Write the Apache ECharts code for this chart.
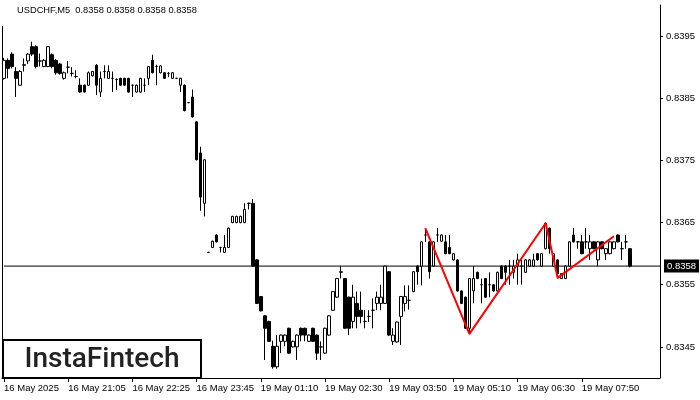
<!DOCTYPE html>
<html><head><meta charset="utf-8">
<script src="https://cdn.jsdelivr.net/npm/echarts@6/dist/echarts.min.js"></script>
<style>html,body{margin:0;padding:0;background:#fff}#c{width:700px;height:400px}</style>
</head><body><div id="c"></div>
<script>
const opens=[0.83882,0.83911,0.83921,0.83893,0.83871,0.83903,0.83910,0.83933,0.83933,0.83910,
0.83901,0.83901,0.83920,0.83911,0.83905,0.83882,0.83900,0.83890,0.83885,0.83871,
0.83871,0.83871,0.83886,0.83903,0.83860,0.83893,0.83882,0.83882,0.83880,0.83882,
0.83882,0.83882,0.83871,0.83860,0.83860,0.83871,0.83882,0.83911,0.83901,0.83891,
0.83891,0.83890,0.83882,0.83882,0.83871,0.83871,0.83843,0.83852,0.83812,0.83762,
0.83681,0.83602,0.83610,0.83630,0.83610,0.83602,0.83610,0.83650,0.83650,0.83650,
0.83650,0.83681,0.83681,0.83590,0.83531,0.83500,0.83491,0.83451,0.83418,0.83459,
0.83459,0.83480,0.83450,0.83450,0.83480,0.83480,0.83459,0.83480,0.83469,0.83450,
0.83440,0.83469,0.83509,0.83530,0.83570,0.83560,0.83530,0.83491,0.83520,0.83509,
0.83491,0.83499,0.83509,0.83520,0.83520,0.83520,0.83571,0.83459,0.83458,0.83499,
0.83520,0.83525,0.83539,0.83580,0.83580,0.83630,0.83619,0.83580,0.83630,0.83620,
0.83619,0.83610,0.83590,0.83590,0.83540,0.83530,0.83480,0.83540,0.83570,0.83550,
0.83560,0.83550,0.83550,0.83540,0.83580,0.83580,0.83580,0.83570,0.83580,0.83580,
0.83570,0.83580,0.83580,0.83600,0.83580,0.83608,0.83641,0.83580,0.83590,0.83560,
0.83560,0.83580,0.83630,0.83619,0.83619,0.83619,0.83608,0.83619,0.83590,0.83619,
0.83600,0.83600,0.83608,0.83630,0.83608,0.83619,0.83608];
const closes=[0.83911,0.83898,0.83901,0.83882,0.83893,0.83904,0.83921,0.83921,0.83901,0.83910,
0.83911,0.83933,0.83901,0.83891,0.83890,0.83891,0.83900,0.83890,0.83885,0.83860,
0.83860,0.83891,0.83893,0.83871,0.83882,0.83893,0.83893,0.83882,0.83880,0.83871,
0.83871,0.83860,0.83871,0.83871,0.83882,0.83871,0.83901,0.83891,0.83901,0.83902,
0.83882,0.83890,0.83891,0.83882,0.83882,0.83830,0.83843,0.83820,0.83751,0.83691,
0.83751,0.83602,0.83620,0.83619,0.83610,0.83610,0.83641,0.83660,0.83660,0.83660,
0.83671,0.83681,0.83580,0.83520,0.83508,0.83480,0.83459,0.83418,0.83451,0.83469,
0.83469,0.83440,0.83459,0.83469,0.83469,0.83469,0.83469,0.83459,0.83440,0.83450,
0.83480,0.83500,0.83539,0.83560,0.83571,0.83480,0.83480,0.83530,0.83499,0.83499,
0.83491,0.83499,0.83509,0.83530,0.83530,0.83580,0.83469,0.83469,0.83490,0.83531,
0.83531,0.83525,0.83571,0.83571,0.83619,0.83630,0.83571,0.83619,0.83630,0.83630,
0.83600,0.83600,0.83600,0.83540,0.83520,0.83480,0.83560,0.83560,0.83560,0.83550,
0.83530,0.83550,0.83540,0.83570,0.83560,0.83570,0.83580,0.83580,0.83590,0.83580,
0.83590,0.83590,0.83590,0.83590,0.83600,0.83649,0.83608,0.83600,0.83568,0.83568,
0.83580,0.83619,0.83619,0.83619,0.83600,0.83619,0.83619,0.83608,0.83619,0.83608,
0.83608,0.83619,0.83619,0.83619,0.83608,0.83619,0.83580];
const lows=[0.83880,0.83882,0.83898,0.83852,0.83870,0.83893,0.83905,0.83918,0.83898,0.83901,
0.83900,0.83900,0.83898,0.83888,0.83888,0.83880,0.83890,0.83885,0.83882,0.83859,
0.83859,0.83870,0.83885,0.83855,0.83852,0.83882,0.83881,0.83860,0.83863,0.83870,
0.83870,0.83859,0.83852,0.83859,0.83859,0.83860,0.83871,0.83890,0.83871,0.83890,
0.83881,0.83884,0.83881,0.83881,0.83860,0.83829,0.83842,0.83819,0.83750,0.83669,
0.83660,0.83601,0.83609,0.83618,0.83602,0.83601,0.83609,0.83649,0.83649,0.83649,
0.83649,0.83671,0.83579,0.83519,0.83507,0.83429,0.83458,0.83415,0.83415,0.83440,
0.83451,0.83439,0.83449,0.83429,0.83459,0.83459,0.83458,0.83458,0.83429,0.83429,
0.83439,0.83468,0.83508,0.83529,0.83560,0.83479,0.83469,0.83480,0.83480,0.83488,
0.83480,0.83490,0.83480,0.83509,0.83509,0.83519,0.83468,0.83453,0.83457,0.83453,
0.83507,0.83510,0.83538,0.83550,0.83549,0.83619,0.83560,0.83579,0.83619,0.83619,
0.83599,0.83599,0.83589,0.83539,0.83519,0.83479,0.83470,0.83520,0.83559,0.83520,
0.83529,0.83530,0.83539,0.83539,0.83559,0.83550,0.83550,0.83560,0.83550,0.83550,
0.83569,0.83579,0.83579,0.83589,0.83579,0.83607,0.83600,0.83579,0.83560,0.83559,
0.83559,0.83579,0.83618,0.83608,0.83599,0.83608,0.83590,0.83607,0.83580,0.83607,
0.83590,0.83599,0.83607,0.83618,0.83590,0.83608,0.83578];
const highs=[0.83915,0.83914,0.83924,0.83900,0.83895,0.83914,0.83923,0.83941,0.83935,0.83922,
0.83913,0.83934,0.83922,0.83913,0.83907,0.83893,0.83910,0.83900,0.83895,0.83882,
0.83872,0.83893,0.83894,0.83905,0.83893,0.83903,0.83903,0.83893,0.83882,0.83883,
0.83883,0.83883,0.83872,0.83872,0.83883,0.83882,0.83902,0.83920,0.83904,0.83903,
0.83892,0.83892,0.83892,0.83883,0.83883,0.83872,0.83844,0.83864,0.83813,0.83772,
0.83752,0.83603,0.83621,0.83631,0.83611,0.83630,0.83642,0.83661,0.83661,0.83661,
0.83681,0.83682,0.83688,0.83591,0.83532,0.83501,0.83492,0.83460,0.83469,0.83470,
0.83470,0.83481,0.83460,0.83470,0.83481,0.83481,0.83470,0.83481,0.83470,0.83459,
0.83481,0.83501,0.83540,0.83561,0.83580,0.83561,0.83531,0.83550,0.83539,0.83539,
0.83509,0.83509,0.83528,0.83539,0.83550,0.83581,0.83572,0.83480,0.83491,0.83532,
0.83549,0.83549,0.83572,0.83581,0.83620,0.83641,0.83620,0.83620,0.83641,0.83631,
0.83630,0.83630,0.83601,0.83591,0.83541,0.83531,0.83561,0.83580,0.83571,0.83560,
0.83561,0.83570,0.83551,0.83571,0.83581,0.83581,0.83590,0.83590,0.83600,0.83590,
0.83591,0.83591,0.83600,0.83601,0.83601,0.83650,0.83642,0.83601,0.83591,0.83569,
0.83581,0.83620,0.83641,0.83620,0.83630,0.83641,0.83630,0.83620,0.83620,0.83620,
0.83609,0.83620,0.83620,0.83631,0.83619,0.83630,0.83609];
const tickLabels=['16 May 2025','16 May 21:05','16 May 22:25','16 May 23:45','19 May 01:10','19 May 02:30','19 May 03:50','19 May 05:10','19 May 06:30','19 May 07:50'];
const priceTicks=[0.8345,0.8355,0.8365,0.8375,0.8385,0.8395];
const lastPrice=0.8358;
const patternIdx=[105,116,135,138,152];
const patternPrice=[0.83641,0.83471,0.83649,0.83561,0.83628];
const titleText='USDCHF,M5  0.8358 0.8358 0.8358 0.8358';
const logoText='InstaFintech';

const NCAT=164, LABEL_STEP=16;
const categories=[];
for(let i=0;i<NCAT;i++){
  const k=i/LABEL_STEP;
  categories.push(i%LABEL_STEP===0 && k<tickLabels.length ? tickLabels[k] : '');
}
const candleData=opens.map((o,i)=>[o,closes[i],lows[i],highs[i]]);
const patternData=patternIdx.map((x,i)=>[x,patternPrice[i]]);
const priceLineData=[[-0.5,lastPrice],[NCAT-0.5,lastPrice]];
const FONT='Liberation Sans';

const chart=echarts.init(document.getElementById('c'),null,{renderer:'canvas'});
chart.setOption({
  animation:false,
  backgroundColor:'#fff',
  grid:{left:2,right:40,top:5,bottom:22},
  xAxis:{
    type:'category',data:categories,boundaryGap:true,
    axisLine:{show:true,lineStyle:{color:'#000',width:1}},
    axisTick:{show:true,alignWithLabel:true,length:4,lineStyle:{color:'#000'},interval:(i,v)=>v!==''},
    axisLabel:{interval:(i,v)=>v!=='',align:'left',margin:5,color:'#000',fontFamily:FONT,fontSize:9.5},
    splitLine:{show:false}
  },
  yAxis:{
    type:'value',position:'right',min:0.834,max:0.840,
    axisLine:{show:true,lineStyle:{color:'#000',width:1}},
    axisTick:{show:true,length:3,customValues:priceTicks,lineStyle:{color:'#000'}},
    axisLabel:{customValues:priceTicks,formatter:v=>v.toFixed(4),margin:6,color:'#000',fontFamily:FONT,fontSize:9.5},
    splitLine:{show:false}
  },
  series:[
    {
      type:'line',data:priceLineData,symbol:'none',clip:false,z:1,silent:true,
      lineStyle:{color:'#000',width:1},
      endLabel:{show:true,distance:3,formatter:()=>lastPrice.toFixed(4),
        backgroundColor:'#000',color:'#fff',padding:[2,3,1,3],fontFamily:FONT,fontSize:9.5}
    },
    {
      type:'candlestick',data:candleData,barWidth:3,z:2,
      itemStyle:{color:'#fff',color0:'#000',borderColor:'#000',borderColor0:'#000',borderWidth:1}
    },
    {
      type:'line',data:patternData,symbol:'none',z:5,
      lineStyle:{color:'#ff0000',width:2}
    }
  ],
  graphic:[
    {type:'line',shape:{x1:2.5,y1:26,x2:2.5,y2:378},style:{stroke:'#000',lineWidth:1}},
    {type:'text',left:17,top:6,style:{text:titleText,fill:'#000',font:'9.3px "Liberation Sans"'}},
    {type:'rect',shape:{x:3,y:340,width:198,height:38},style:{fill:'#fff',stroke:'#000',lineWidth:2},z:10},
    {type:'text',x:102,y:360,z:11,style:{text:logoText,fill:'#222',font:'500 28px Roboto',textAlign:'center',textVerticalAlign:'middle'}}
  ]
});
</script>
</body></html>
